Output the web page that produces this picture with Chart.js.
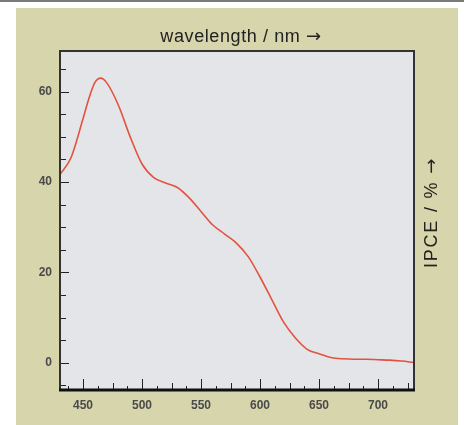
<!DOCTYPE html>
<html>
<head>
<meta charset="utf-8">
<script src="https://cdn.jsdelivr.net/npm/chart.js@4.4.1/dist/chart.umd.min.js"></script>
<style>
  html, body { margin:0; padding:0; background:#fff; width:464px; height:425px; overflow:hidden; }
  #topline { position:absolute; left:0; top:0; width:464px; height:2px; background:#7a7a7a; }
  #panel { position:absolute; left:16px; top:8px; width:442px; height:417px; background:#d7d5ab; }
  #panel canvas { position:absolute; left:0; top:0; }
</style>
</head>
<body>
<div id="topline"></div>
<div id="panel"><canvas id="c" width="442" height="417"></canvas></div>
<script>
// wavelength (nm) and IPCE (%)
var wavelength = [430, 440, 450, 455, 460, 465, 470, 480, 490, 500, 510, 520, 530, 540, 550, 560, 570, 580, 590, 600, 610, 620, 630, 640, 650, 660, 670, 680, 690, 700, 710, 720, 730];
var ipce       = [41.5, 45.5, 54, 58.5, 62, 63, 62, 57, 50, 44, 41, 39.8, 38.8, 36.5, 33.5, 30.5, 28.5, 26.5, 23.5, 19, 14, 9, 5.5, 3, 2, 1.2, 0.9, 0.8, 0.8, 0.7, 0.6, 0.4, 0.1];

var xTicks = [450, 500, 550, 600, 650, 700];
var yTicks = [0, 20, 40, 60];
var xTitle = 'wavelength / nm';
var yTitle = 'IPCE / %';

var xMin = 430.5, xMax = 730.5;
var yMin = -6, yMax = 69;

var points = [];
for (var i = 0; i < wavelength.length; i++)
  points.push({x: wavelength[i], y: ipce[i]});

var txtFont = '18px "Liberation Sans", Arial, sans-serif';
var arrowFont = '18px "DejaVu Sans", sans-serif';

// text followed by a long arrow, centred on (0,0) of the current transform
function drawTitle(ctx, text, spacing) {
  ctx.letterSpacing = spacing + 'px';
  ctx.font = txtFont;
  var w1 = ctx.measureText(text + ' ').width;
  ctx.font = arrowFont;
  var w2 = ctx.measureText('\u2192').width;
  var x0 = -(w1 + w2) / 2;
  ctx.textBaseline = 'middle';
  ctx.textAlign = 'left';
  ctx.font = txtFont;
  ctx.fillText(text + ' ', x0, 0);
  ctx.font = arrowFont;
  ctx.fillText('\u2192', x0 + w1, 0);
  ctx.letterSpacing = '0px';
}

// plot background + inward ticks + frame + titles
var framePlugin = {
  id: 'frame',
  beforeDatasetsDraw: function(chart) {
    var a = chart.chartArea, ctx = chart.ctx;
    ctx.save();
    ctx.fillStyle = '#e4e5e9';
    ctx.fillRect(a.left, a.top, a.right - a.left, a.bottom - a.top);
    ctx.restore();
  },
  afterDatasetsDraw: function(chart) {
    var a = chart.chartArea, ctx = chart.ctx;
    var xs = chart.scales.x, ys = chart.scales.y;
    ctx.save();
    ctx.strokeStyle = '#222';
    ctx.lineWidth = 1;
    // x ticks, every 12.5 nm
    for (var v = 437.5; v <= xMax; v += 12.5) {
      var px = Math.round(xs.getPixelForValue(v)) + 0.5;
      var len = (v % 50 === 0) ? 11 : (v % 25 === 0 ? 7 : 4);
      ctx.beginPath();
      ctx.moveTo(px, a.bottom);
      ctx.lineTo(px, a.bottom - len);
      ctx.stroke();
    }
    // y ticks, every 5
    for (var w = -5; w <= yMax; w += 5) {
      var py = Math.round(ys.getPixelForValue(w)) + 0.5;
      var l2 = (w % 20 === 0) ? 9 : 6;
      ctx.beginPath();
      ctx.moveTo(a.left, py);
      ctx.lineTo(a.left + l2, py);
      ctx.stroke();
    }
    // frame
    ctx.strokeStyle = '#333';
    ctx.lineWidth = 2;
    ctx.strokeRect(a.left, a.top, a.right - a.left, a.bottom - a.top);
    ctx.strokeStyle = '#111';
    ctx.lineWidth = 3;
    ctx.beginPath();
    ctx.moveTo(a.left - 1, a.bottom);
    ctx.lineTo(a.right + 1, a.bottom);
    ctx.stroke();

    // titles
    ctx.fillStyle = '#222';
    ctx.save();
    ctx.translate((a.left + a.right) / 2 + 4, a.top - 14);
    drawTitle(ctx, xTitle, 0.6);
    ctx.restore();
    ctx.save();
    ctx.translate(a.right + 18, (a.top + a.bottom) / 2 - 8);
    ctx.rotate(-Math.PI / 2);
    drawTitle(ctx, yTitle, 1.8);
    ctx.restore();
    ctx.restore();
  }
};

var tickFont = {family: '"Liberation Sans", Arial, sans-serif', size: 12, weight: 'bold'};

new Chart(document.getElementById('c'), {
  type: 'line',
  data: {
    datasets: [{
      data: points,
      borderColor: '#e2533f',
      borderWidth: 1.6,
      pointRadius: 0,
      cubicInterpolationMode: 'monotone',
      fill: false
    }]
  },
  options: {
    responsive: false,
    animation: false,
    events: [],
    layout: {padding: {top: 43, right: 44}},
    plugins: {legend: {display: false}, tooltip: {enabled: false}},
    scales: {
      x: {
        type: 'linear', position: 'bottom', min: xMin, max: xMax,
        afterBuildTicks: function(s) { s.ticks = xTicks.map(function(v) { return {value: v}; }); },
        afterFit: function(s) { s.height = 35; },
        grid: {display: false, drawTicks: false},
        border: {display: false},
        ticks: {color: '#4a4a4a', font: tickFont, padding: 8, maxRotation: 0}
      },
      y: {
        type: 'linear', position: 'left', min: yMin, max: yMax,
        afterBuildTicks: function(s) { s.ticks = yTicks.map(function(v) { return {value: v}; }); },
        afterFit: function(s) { s.width = 44; },
        grid: {display: false, drawTicks: false},
        border: {display: false},
        ticks: {color: '#4a4a4a', font: tickFont, padding: 8}
      }
    }
  },
  plugins: [framePlugin]
});
</script>
</body>
</html>
